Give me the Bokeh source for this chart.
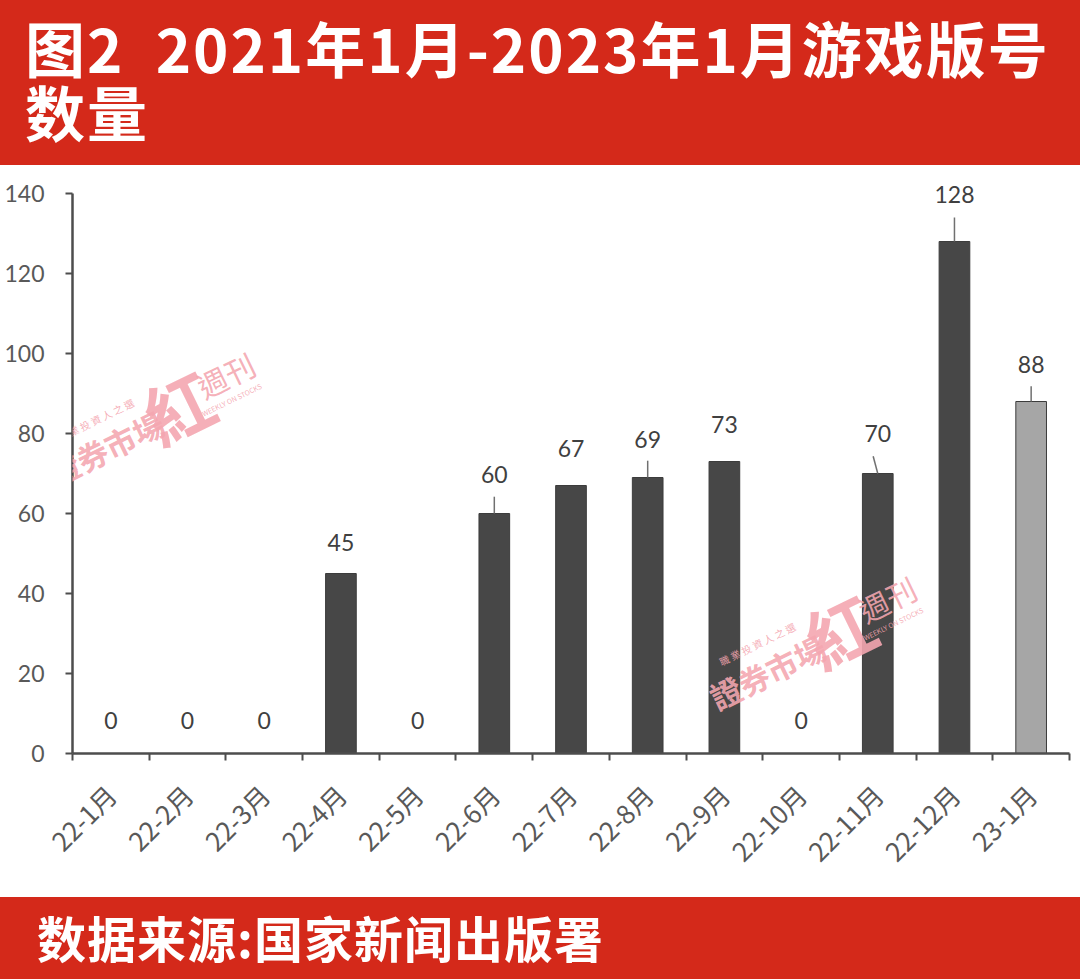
import math
from bokeh.plotting import figure
from bokeh.models import Range1d, FixedTicker, ColumnDataSource, Div, Label
from bokeh.layouts import column
from bokeh.embed import file_html
from bokeh.resources import INLINE
from bokeh.core.properties import value

# ---------------- data ----------------
months = ["22-1月", "22-2月", "22-3月", "22-4月", "22-5月", "22-6月", "22-7月",
          "22-8月", "22-9月", "22-10月", "22-11月", "22-12月", "23-1月"]
counts = [0, 0, 0, 45, 0, 60, 67, 69, 73, 0, 70, 128, 88]
y_ticks = [0, 20, 40, 60, 80, 100, 120, 140]
title_line1 = "图2&nbsp;&nbsp;2021年1月-2023年1月游戏版号"
title_line2 = "数量"
source_text = "数据来源:国家新闻出版署"

# ---------------- styles ----------------
RED = "#d4291a"
DARK_BAR = "#474747"
LIGHT_BAR = "#a6a6a6"
AXIS = "#4d4d4d"
TEXT = "#595959"
PINK = "#f4a6b0"
bar_colors = [DARK_BAR] * (len(months) - 1) + [LIGHT_BAR]
label_gap = [-33, -33, -33, -31, -33, -39, -37, -38, -37, -33, -40, -47, -37]
leader_len = [0, 0, 0, 0, 0, 4.2, 0, 4.2, 0, 0, 4.3, 6.0, 3.8]
leader_dx = [0, 0, 0, 0, 0, 0, 0, 0, 0, 0, -0.06, 0, 0]

centers = [i + 0.5 for i in range(len(months))]

line_style = ("color:white;font-family:'Noto Sans CJK SC';font-weight:bold;"
              "white-space:nowrap;overflow:visible;")
top = Div(
    text=(f'<div style="padding:15px 0 0 25px;">'
          f'<div style="{line_style}font-size:60px;line-height:64px;height:64px;letter-spacing:2px;">{title_line1}</div>'
          f'<div style="{line_style}font-size:60px;line-height:64px;height:64px;letter-spacing:2px;">{title_line2}</div>'
          f'</div>'),
    width=1080, height=165,
    styles={"background-color": RED, "margin": "0", "overflow": "hidden"},
)
bottom = Div(
    text=(f'<div style="{line_style}font-size:49px;line-height:52px;padding:14px 0 0 37px;'
          f'letter-spacing:1px;">{source_text}</div>'),
    width=1080, height=82,
    styles={"background-color": RED, "margin": "0", "overflow": "hidden"},
)

p = figure(width=1080, height=732, x_range=Range1d(0, len(months)), y_range=Range1d(0, 145),
           output_backend="svg", toolbar_location=None,
           min_border_left=72, min_border_right=11, min_border_top=8, min_border_bottom=144)
p.outline_line_color = None
p.grid.visible = False
p.background_fill_color = "white"
p.border_fill_color = "white"

src = ColumnDataSource(dict(x=centers, top=counts, color=bar_colors,
                            label=[str(v) for v in counts], gap=label_gap))
p.vbar(x="x", top="top", width=0.4, fill_color="color", line_color="#3c3c3c",
       line_width=1, source=src)

# leader lines above some labels
lx = [c for c, l in zip(centers, leader_len) if l > 0]
ldx = [c + d for c, d, l in zip(centers, leader_dx, leader_len) if l > 0]
ly0 = [v for v, l in zip(counts, leader_len) if l > 0]
ly1 = [v + l for v, l in zip(counts, leader_len) if l > 0]
p.segment(x0=lx, y0=ly0, x1=ldx, y1=ly1, line_color="#707070", line_width=1.5)

p.text(x="x", y="top", text="label", y_offset="gap", source=src,
       text_align="center", text_baseline="middle",
       text_font=value("Lato"), text_font_size="23px", text_color="#404040")

# x axis: boundary tick marks (minor) and centred labels (major)
xa = p.xaxis[0]
xa.ticker = FixedTicker(ticks=centers, minor_ticks=list(range(len(months) + 1)))
xa.major_label_overrides = {c: m for c, m in zip(centers, months)}
xa.major_tick_out = 0
xa.major_tick_in = 0
xa.minor_tick_out = 7
xa.minor_tick_in = 0
xa.minor_tick_line_color = AXIS
xa.minor_tick_line_width = 2
xa.axis_line_color = AXIS
xa.axis_line_width = 2.5
xa.major_label_orientation = math.pi / 4
xa.major_label_standoff = 29
xa.major_label_text_font = "Noto Sans CJK SC"
xa.major_label_text_font_size = "26px"
xa.major_label_text_color = TEXT

ya = p.yaxis[0]
ya.ticker = FixedTicker(ticks=y_ticks)
ya.bounds = (0, 140)
ya.major_tick_out = 7
ya.major_tick_in = 0
ya.minor_tick_out = 0
ya.minor_tick_in = 0
ya.major_tick_line_color = AXIS
ya.major_tick_line_width = 2
ya.axis_line_color = AXIS
ya.axis_line_width = 2.5
ya.major_label_standoff = 21
ya.major_label_text_font = "Lato"
ya.major_label_text_font_size = "23px"
ya.major_label_text_color = TEXT


# watermarks (decoration, placed by pixel position in the page)
def px2x(px):
    return (px - 71.6) / 76.75


def py2y(py):
    return (752.7 - py) / 4.0


ang = math.radians(26)
wm_parts = [
    ("證券市場", 105, 447, "31px", "bold"),
    ("紅", 177, 405, "68px", "bold"),
    ("週刊", 225, 374, "30px", "normal"),
    ("WEEKLY ON STOCKS", 231, 399, "7px", "normal"),
    ("職 業 投 資 人 之 選", 95, 419, "10px", "normal"),
]
for dx, dy in [(0, 0), (662, 224)]:
    for txt, cx, cy, fs, fw in wm_parts:
        p.add_layout(Label(x=px2x(cx + dx), y=py2y(cy + dy), text=txt, angle=ang,
                           text_align="center", text_baseline="middle",
                           text_font="Noto Sans CJK TC", text_font_size=fs,
                           text_color=PINK, text_alpha=0.9, text_font_style=fw))

layout = column(top, p, bottom, spacing=0)
open("out.html", "w").write(file_html(layout, INLINE))
